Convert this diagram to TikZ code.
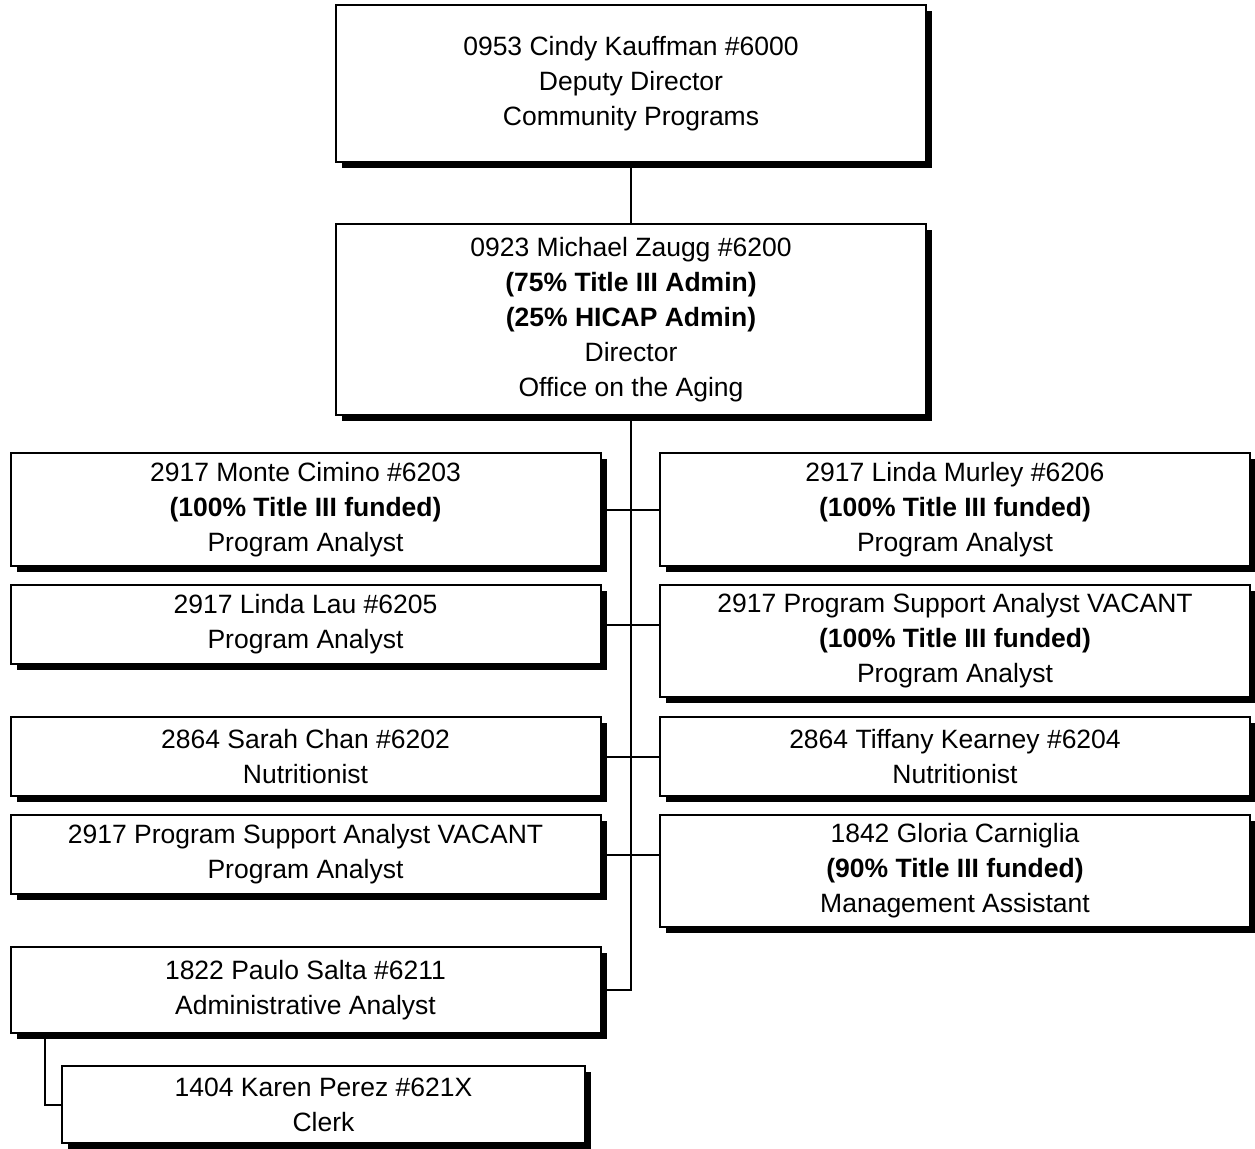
\documentclass[tikz,border=0pt]{standalone}
\usepackage{fontspec}
\setmainfont{Liberation Sans}
\usepackage{tikz}
\usetikzlibrary{positioning,shapes,shadows}
\tikzstyle{post} = [rectangle, draw, line width=1pt, fill=white, align=center, inner sep=0pt, font=\fontsize{13.25}{17.5}\selectfont, drop shadow={shadow xshift=3pt, shadow yshift=-3pt, fill=black, opacity=1}]
\tikzstyle{wide} = [post, minimum width=295pt]
\tikzstyle{link} = [draw, line width=1pt]

\begin{document}
\begin{tikzpicture}[x=0.5pt, y=-0.5pt]
        \useasboundingbox (0, 0) rectangle (1255, 1148);
        % Place nodes
        \node at (631, 83.5) [wide, minimum height=78.5pt] (deputy) {0953 Cindy Kauffman \#6000\\Deputy Director\\Community Programs};
        \node at (631, 319.5) [wide, minimum height=95.5pt] (director) {0923 Michael Zaugg \#6200\\\textbf{(75\% Title III Admin)}\\\textbf{(25\% HICAP Admin)}\\Director\\Office on the Aging};
        \node at (305.5, 509.5) [wide, minimum height=56.5pt] (cimino) {2917 Monte Cimino \#6203\\\textbf{(100\% Title III funded)}\\Program Analyst};
        \node at (955, 509.5) [wide, minimum height=56.5pt] (murley) {2917 Linda Murley \#6206\\\textbf{(100\% Title III funded)}\\Program Analyst};
        \node at (305.5, 624.5) [wide, minimum height=39.5pt] (lau) {2917 Linda Lau \#6205\\Program Analyst};
        \node at (955, 641) [wide, minimum height=56pt] (vacant1) {2917 Program Support Analyst VACANT\\\textbf{(100\% Title III funded)}\\Program Analyst};
        \node at (305.5, 756.5) [wide, minimum height=39.5pt] (chan) {2864 Sarah Chan \#6202\\Nutritionist};
        \node at (955, 756.5) [wide, minimum height=39.5pt] (kearney) {2864 Tiffany Kearney \#6204\\Nutritionist};
        \node at (305.5, 854.5) [wide, minimum height=39.5pt] (vacant2) {2917 Program Support Analyst VACANT\\Program Analyst};
        \node at (955, 871) [wide, minimum height=56pt] (carniglia) {1842 Gloria Carniglia\\\textbf{(90\% Title III funded)}\\Management Assistant};
        \node at (305.5, 990) [wide, minimum height=43pt] (salta) {1822 Paulo Salta \#6211\\Administrative Analyst};
        \node at (323.5, 1104.5) [post, minimum width=261.5pt, minimum height=38.5pt] (perez) {1404 Karen Perez \#621X\\Clerk};

        % Draw edges
        \path [link] (deputy) -- (director);
        \path [link] (director.south) |- (salta.east);
        \path [link] (cimino.east) -- (cimino.east -| murley.west);
        \path [link] (lau.east) -- (lau.east -| vacant1.west);
        \path [link] (chan.east) -- (chan.east -| kearney.west);
        \path [link] (vacant2.east) -- (vacant2.east -| carniglia.west);
        \path [link] ([xshift=17.5pt]salta.south west) |- (perez.west);
    \end{tikzpicture}
\end{document}
